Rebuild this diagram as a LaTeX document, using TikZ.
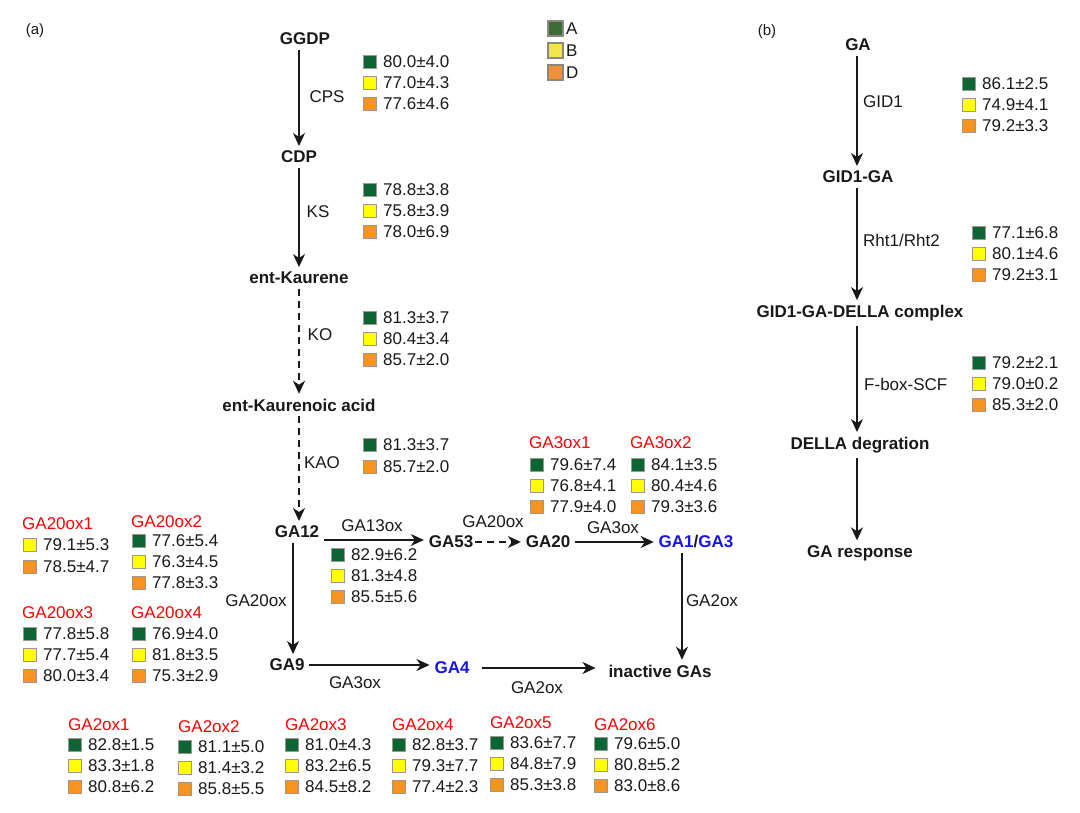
\documentclass[tikz,border=0pt]{standalone}
\usepackage{fontspec}
\setmainfont{Liberation Sans}
\usetikzlibrary{arrows.meta}
\definecolor{sqgreen}{RGB}{10,102,51}
\definecolor{sqyellow}{RGB}{255,255,0}
\definecolor{sqorange}{RGB}{247,147,30}
\definecolor{sqborder}{RGB}{160,150,140}
\definecolor{lgA}{RGB}{61,107,53}
\definecolor{lgB}{RGB}{242,228,77}
\definecolor{lgD}{RGB}{240,145,58}
\definecolor{lgborder}{RGB}{140,135,130}
\definecolor{gablue}{RGB}{20,20,235}
\definecolor{txt}{RGB}{25,25,25}
\tikzset{
  every node/.style={font=\fontsize{17}{20}\selectfont, inner sep=0pt, text=txt},
  main/.style={font=\fontsize{17}{20}\selectfont\bfseries, outer sep=5pt},
  lab/.style={},
  val/.style={anchor=west},
  ttl/.style={anchor=west, text=red},
  sq/.style={draw=sqborder, line width=1.2pt, minimum size=13.5pt, inner sep=0pt},
  lgsq/.style={draw=lgborder, line width=2pt, minimum size=15pt, inner sep=0pt},
  arr/.style={line width=1.2pt, draw=txt, -{Stealth[length=13pt,width=12pt,inset=4pt]}},
  dsh/.style={arr, dash pattern=on 7pt off 5pt},
}
\newcommand{\vrow}[5]{%
  \node[sq,fill=#4] (#1s) at (#2,#3) {};
  \node[val] (#1t) at ({#2+13},#3) {#5};}
\newcommand{\vthree}[6]{%
  \vrow{#1a}{#2}{#3}{sqgreen}{#4}%
  \vrow{#1b}{#2}{#3+21}{sqyellow}{#5}%
  \vrow{#1c}{#2}{#3+42}{sqorange}{#6}}
\begin{document}
\begin{tikzpicture}[x=1pt,y=-1pt]
\useasboundingbox (0,0) rectangle (1080,813);
\fill[white] (0,0) rectangle (1080,813);

% ---------- panel (a) ----------
\node[font=\fontsize{15}{18}\selectfont] (pa) at (35,31) {(a)};

\node[main] (GGDP) at (305,39) {GGDP};
\node[main] (CDP) at (299,157) {CDP};
\node[main] (entK) at (299,278) {ent-Kaurene};
\node[main] (entKA) at (299,405) {ent-Kaurenoic acid};
\node[main] (GA12) at (297,532) {GA12};
\node[main] (GA53) at (451,542) {GA53};
\node[main] (GA20) at (548,542) {GA20};
\node[main] (GA13) at (696,542) {\textcolor{gablue}{GA1}/\textcolor{gablue}{GA3}};
\node[main] (GA9) at (287,665) {GA9};
\node[main,text=gablue] (GA4) at (452,668) {GA4};
\node[main] (inact) at (660,671) {inactive GAs};

\draw[arr] (GGDP.south -| CDP.north) -- (CDP.north);
\draw[arr] (CDP) -- (entK);
\draw[dsh] (entK) -- (entKA);
\draw[dsh] (entKA.south) -- (entKA.south |- GA12.north);
\draw[arr] ([yshift=-8pt]GA12.east) -- ([yshift=-8pt]GA12.east -| GA53.west);
\draw[dsh,shorten <=-3pt] (GA53.east) -- (GA20.west);
\draw[arr] (GA20.east) -- (GA13.west);
\draw[arr] ([xshift=-14pt]GA13.south) -- ([xshift=-14pt]GA13.south |- inact.north);
\draw[arr] ([xshift=-4pt]GA12.south) -- ([xshift=-4pt]GA12.south |- GA9.north);
\draw[arr] (GA9.east) -- (GA9.east -| GA4.west);
\draw[arr,shorten <=8pt,shorten >=8pt] (GA4.east) -- (GA4.east -| inact.west);

\node[lab] (lCPS) at (327,97) {CPS};
\node[lab] (lKS) at (318,212) {KS};
\node[lab] (lKO) at (320,335) {KO};
\node[lab] (lKAO) at (322,463) {KAO};
\node[lab] (lGA13ox) at (372,526) {GA13ox};
\node[lab] (lGA20oxa) at (493,522) {GA20ox};
\node[lab] (lGA3oxa) at (613,528) {GA3ox};
\node[lab] (lGA2oxa) at (712,601) {GA2ox};
\node[lab] (lGA20oxb) at (256,601) {GA20ox};
\node[lab] (lGA3oxb) at (355,683) {GA3ox};
\node[lab] (lGA2oxb) at (537,688) {GA2ox};

% legend
\node[lgsq,fill=lgA] (lgAs) at (555,29) {};
\node[lgsq,fill=lgB] (lgBs) at (555,51) {};
\node[lgsq,fill=lgD] (lgDs) at (555,73) {};
\node[anchor=west] (lgAt) at (566,29) {A};
\node[anchor=west] (lgBt) at (566,51) {B};
\node[anchor=west] (lgDt) at (566,73) {D};

% value groups along main pathway
\vthree{cps}{370}{62}{80.0±4.0}{77.0±4.3}{77.6±4.6}
\vthree{ks}{370}{190}{78.8±3.8}{75.8±3.9}{78.0±6.9}
\vthree{ko}{370}{318}{81.3±3.7}{80.4±3.4}{85.7±2.0}
\vrow{kaoa}{370}{445}{sqgreen}{81.3±3.7}
\vrow{kaoc}{370}{467}{sqorange}{85.7±2.0}
\vthree{gtt}{338}{555}{82.9±6.2}{81.3±4.8}{85.5±5.6}

% GA3ox
\node[ttl] (tGA3ox1) at (529,443) {GA3ox1};
\vthree{g3a}{537}{465}{79.6±7.4}{76.8±4.1}{77.9±4.0}
\node[ttl] (tGA3ox2) at (630,443) {GA3ox2};
\vthree{g3b}{638}{465}{84.1±3.5}{80.4±4.6}{79.3±3.6}

% GA20ox
\node[ttl] (tGA20ox1) at (22,524) {GA20ox1};
\vrow{g20ab}{30}{545}{sqyellow}{79.1±5.3}
\vrow{g20ac}{30}{567}{sqorange}{78.5±4.7}
\node[ttl] (tGA20ox2) at (131,522) {GA20ox2};
\vthree{g20b}{139}{541}{77.6±5.4}{76.3±4.5}{77.8±3.3}
\node[ttl] (tGA20ox3) at (22,613) {GA20ox3};
\vthree{g20c}{30}{634}{77.8±5.8}{77.7±5.4}{80.0±3.4}
\node[ttl] (tGA20ox4) at (131,613) {GA20ox4};
\vthree{g20d}{139}{634}{76.9±4.0}{81.8±3.5}{75.3±2.9}

% GA2ox
\node[ttl] (tGA2ox1) at (68,725) {GA2ox1};
\vthree{g2a}{75}{745}{82.8±1.5}{83.3±1.8}{80.8±6.2}
\node[ttl] (tGA2ox2) at (178,727) {GA2ox2};
\vthree{g2b}{185}{747}{81.1±5.0}{81.4±3.2}{85.8±5.5}
\node[ttl] (tGA2ox3) at (285,725) {GA2ox3};
\vthree{g2c}{292}{745}{81.0±4.3}{83.2±6.5}{84.5±8.2}
\node[ttl] (tGA2ox4) at (392,725) {GA2ox4};
\vthree{g2d}{399}{745}{82.8±3.7}{79.3±7.7}{77.4±2.3}
\node[ttl] (tGA2ox5) at (490,723) {GA2ox5};
\vthree{g2e}{497}{743}{83.6±7.7}{84.8±7.9}{85.3±3.8}
\node[ttl] (tGA2ox6) at (594,725) {GA2ox6};
\vthree{g2f}{601}{744}{79.6±5.0}{80.8±5.2}{83.0±8.6}

% ---------- panel (b) ----------
\node[font=\fontsize{15}{18}\selectfont] (pb) at (767,32) {(b)};
\node[main] (GA) at (858,45) {GA};
\node[main] (GID1GA) at (858,177) {GID1-GA};
\node[main] (cplx) at (860,313) {GID1-GA-DELLA complex};
\node[main] (deg) at (860,445) {DELLA degration};
\node[main] (resp) at (860,553) {GA response};
\draw[arr] (GA.south -| 857,0) -- (GID1GA.north -| 857,0);
\draw[arr] (GID1GA.south -| 857,0) -- (cplx.north -| 857,0);
\draw[arr] (cplx.south -| 857,0) -- (deg.north -| 857,0);
\draw[arr] (deg.south -| 857,0) -- (resp.north -| 857,0);
\node[lab,anchor=west] (lGID1) at (863,102) {GID1};
\node[lab,anchor=west] (lRht) at (863,240) {Rht1/Rht2};
\node[lab,anchor=west] (lFbox) at (864,384) {F-box-SCF};
\vthree{gid}{969}{84}{86.1±2.5}{74.9±4.1}{79.2±3.3}
\vthree{rht}{979}{233}{77.1±6.8}{80.1±4.6}{79.2±3.1}
\vthree{fbx}{979}{363}{79.2±2.1}{79.0±0.2}{85.3±2.0}
\end{tikzpicture}
\end{document}
